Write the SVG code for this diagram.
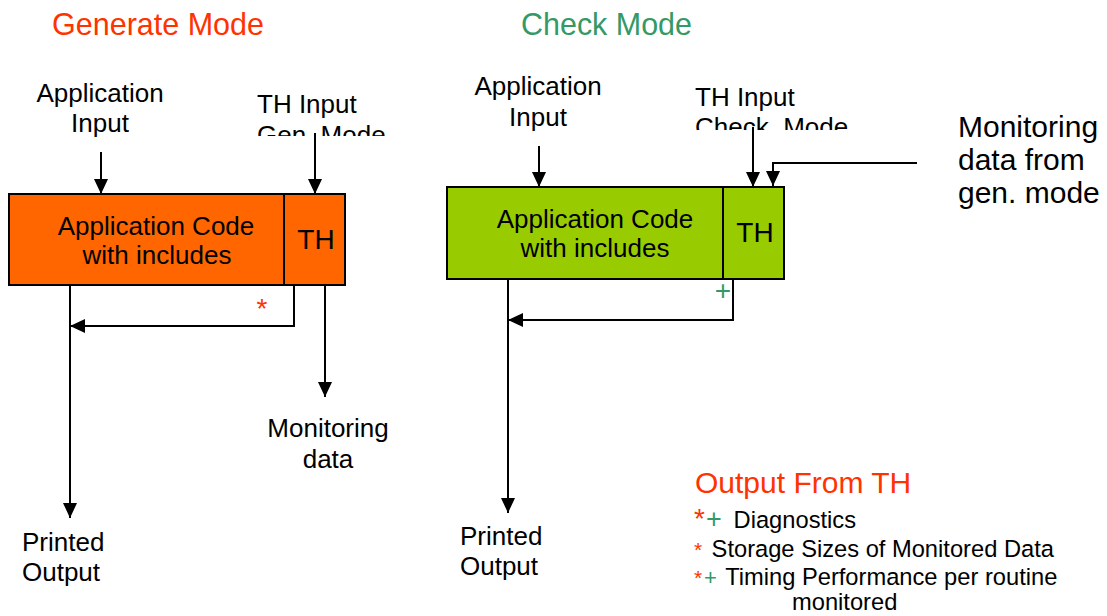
<svg xmlns="http://www.w3.org/2000/svg" width="1107" height="616" viewBox="0 0 1107 616">
  <style>
    text { font-family: "Liberation Sans", Arial, sans-serif; fill: #000; }
    .t26 { font-size: 26px; }
    .th { font-size: 28px; }
    .leg { font-size: 23.7px; }
    .red { fill: #FF3300; }
    .grn { fill: #339966; }
    .box { stroke: #000; stroke-width: 2; }
    .ln { fill: none; stroke: #000; stroke-width: 2; }
  </style>
  <defs>
    <marker id="ah" viewBox="0 0 15 14" refX="15" refY="7" markerWidth="15" markerHeight="14" markerUnits="userSpaceOnUse" orient="auto">
      <path d="M0,0 L15,7 L0,14 Z" fill="#000"/>
    </marker>
    <clipPath id="clipL"><rect x="200" y="0" width="200" height="136"/></clipPath>
    <clipPath id="clipR"><rect x="650" y="0" width="250" height="130"/></clipPath>
  </defs>

  <g id="titles">
    <text x="52" y="35" font-size="32" textLength="212" lengthAdjust="spacingAndGlyphs" class="red">Generate Mode</text>
    <text x="521" y="35" font-size="32" textLength="171" lengthAdjust="spacingAndGlyphs" class="grn">Check Mode</text>
  </g>

  <g id="gen-app-input">
    <text class="t26" x="100" y="102" text-anchor="middle">Application</text>
    <text class="t26" x="100" y="132" text-anchor="middle">Input</text>
  </g>
  <g id="gen-th-input" clip-path="url(#clipL)">
    <text class="t26" x="257" y="113">TH Input</text>
    <text class="t26" x="257" y="144">Gen. Mode</text>
  </g>
  <g id="gen-box">
    <rect class="box" x="9" y="194" width="336" height="91" fill="#FF6600"/>
    <line class="box" x1="284" y1="194" x2="284" y2="285"/>
    <text class="t26" x="156" y="235" text-anchor="middle">Application Code</text>
    <text class="t26" x="157" y="264" text-anchor="middle">with includes</text>
    <text class="th" x="316" y="249" text-anchor="middle">TH</text>
  </g>
  <g id="gen-monitoring">
    <text class="t26" x="328" y="437" text-anchor="middle">Monitoring</text>
    <text class="t26" x="328" y="468" text-anchor="middle">data</text>
  </g>
  <g id="gen-printed">
    <text class="t26" x="22" y="551">Printed</text>
    <text class="t26" x="22" y="581">Output</text>
  </g>
  <text x="262" y="318" font-size="28" text-anchor="middle" class="red">*</text>

  <g id="chk-app-input">
    <text class="t26" x="538" y="95" text-anchor="middle">Application</text>
    <text class="t26" x="538" y="126" text-anchor="middle">Input</text>
  </g>
  <g id="chk-th-input" clip-path="url(#clipR)">
    <text class="t26" x="695" y="106">TH Input</text>
    <text class="t26" x="695" y="136">Check. Mode</text>
  </g>
  <g id="chk-box">
    <rect class="box" x="447" y="187" width="337" height="92" fill="#99CC00"/>
    <line class="box" x1="723" y1="187" x2="723" y2="279"/>
    <text class="t26" x="595" y="228" text-anchor="middle">Application Code</text>
    <text class="t26" x="595" y="257" text-anchor="middle">with includes</text>
    <text class="th" x="755" y="242" text-anchor="middle">TH</text>
  </g>
  <g id="chk-monitoring-from-gen">
    <text x="958" y="137" font-size="30">Monitoring</text>
    <text x="958" y="170" font-size="30">data from</text>
    <text x="958" y="203" font-size="30">gen. mode</text>
  </g>
  <g id="chk-printed">
    <text class="t26" x="460" y="545">Printed</text>
    <text class="t26" x="460" y="575">Output</text>
  </g>
  <text x="723" y="300" font-size="28" text-anchor="middle" class="grn">+</text>

  <g id="legend">
    <text x="695" y="493" font-size="30" class="red">Output From TH</text>
    <text class="leg" y="528"><tspan x="694" font-size="28" class="red">*</tspan><tspan x="706" font-size="27" class="grn">+</tspan><tspan x="727"> Diagnostics</tspan></text>
    <text class="leg" y="557"><tspan x="694" font-size="21" class="red">*</tspan><tspan x="705"> Storage Sizes of Monitored Data</tspan></text>
    <text class="leg" y="585"><tspan x="694" font-size="21" class="red">*</tspan><tspan x="704" font-size="22" class="grn">+</tspan><tspan x="719"> Timing Performance per routine</tspan></text>
    <text class="leg" x="792" y="610">monitored</text>
  </g>

  <g id="connectors">
    <line class="ln" x1="101" y1="152" x2="101" y2="194" marker-end="url(#ah)"/>
    <line class="ln" x1="315" y1="133" x2="315" y2="194" marker-end="url(#ah)"/>
    <line class="ln" x1="70" y1="285" x2="70" y2="518" marker-end="url(#ah)"/>
    <path class="ln" d="M294,285 V326 H70" marker-end="url(#ah)"/>
    <line class="ln" x1="325" y1="285" x2="325" y2="397" marker-end="url(#ah)"/>

    <line class="ln" x1="539" y1="146" x2="539" y2="187" marker-end="url(#ah)"/>
    <line class="ln" x1="753" y1="127" x2="753" y2="187" marker-end="url(#ah)"/>
    <path class="ln" d="M917,163 H773 V186" marker-end="url(#ah)"/>
    <line class="ln" x1="508" y1="279" x2="508" y2="513" marker-end="url(#ah)"/>
    <path class="ln" d="M733,279 V320 H508" marker-end="url(#ah)"/>
  </g>
</svg>
